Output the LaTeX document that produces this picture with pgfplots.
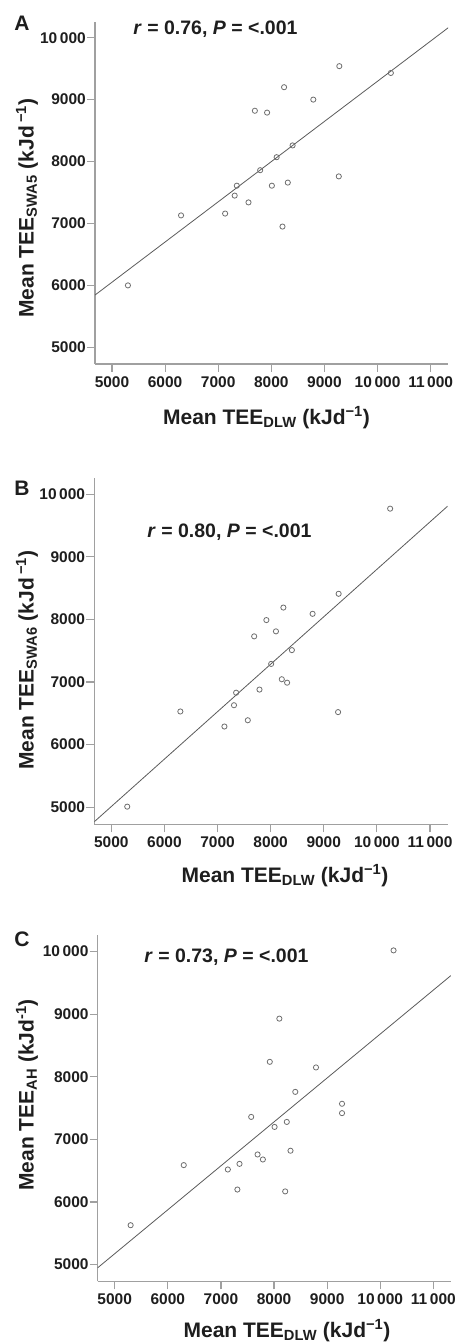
\documentclass[border=0pt]{standalone}
\usepackage{pgfplots}
\pgfplotsset{compat=1.18}
\usepackage{fontspec}
\setmainfont{Liberation Sans}
\definecolor{axgray}{HTML}{A0A0A0}
\definecolor{mkgray}{HTML}{6E6E6E}
\definecolor{lngray}{HTML}{5A5A5A}
\definecolor{txt}{HTML}{1E1E1E}
\pgfplotsset{
  tee/.style={
    scale only axis, width=353.2pt, xmin=4680, xmax=11330,
    anchor=south west, scaled ticks=false,
    axis x line*=bottom, axis y line*=left,
    axis line style={axgray, line width=1.2pt, -},
    tick style={axgray, line width=1.2pt},
    tick align=outside, major tick length=8pt,
    xtick={5000,6000,7000,8000,9000,10000,11000},
    xticklabels={5000,6000,7000,8000,9000,10\,000,11\,000},
    ytick={5000,6000,7000,8000,9000,10000},
    yticklabels={5000,6000,7000,8000,9000,10\,000},
    ticklabel style={font=\bfseries\fontsize{15.5}{18}\selectfont, text=txt},
    xticklabel style={inner sep=1pt, yshift=-3pt},
    yticklabel style={inner sep=1pt},
  },
  pts/.style={only marks, mark=o, mark size=2.6pt, mark options={draw=mkgray, line width=0.8pt}},
  reg/.style={no marks, lngray, line width=0.8pt},
}
\newcommand{\lab}{\bfseries\fontsize{21}{24}\selectfont}
\newcommand{\ann}{\bfseries\fontsize{19.5}{22}\selectfont}
\begin{document}
\begin{tikzpicture}
\useasboundingbox (0pt,0pt) rectangle (457pt,1342pt);
% ---------- Panel A ----------
\begin{axis}[tee, at={(95pt,978pt)}, height=342.3pt, ymin=4731, ymax=10258]
\addplot[reg] coordinates {(4680,5844) (11330,10160)};
\addplot[pts] coordinates {
(5300,6000) (6300,7130) (7130,7160) (7310,7450) (7350,7610) (7570,7340)
(7690,8820) (7790,7860) (7920,8790) (8010,7610) (8100,8070) (8240,9200)
(8210,6950) (8310,7660) (8400,8260) (8790,9000) (9280,9540) (9270,7760)
(10250,9430)};
\end{axis}
% ---------- Panel B ----------
\begin{axis}[tee, at={(94.3pt,517.7pt)}, height=346.7pt, ymin=4728, ymax=10266]
\addplot[reg] coordinates {(4680,4769) (11330,9808)};
\addplot[pts] coordinates {
(5300,5010) (6300,6530) (7130,6290) (7310,6630) (7350,6830) (7570,6390)
(7690,7730) (7790,6880) (7920,7990) (8010,7290) (8100,7810) (8240,8190)
(8210,7045) (8310,6990) (8400,7510) (8790,8090) (9280,8410) (9270,6520)
(10250,9770)};
\end{axis}
% ---------- Panel C ----------
\begin{axis}[tee, at={(97.7pt,60.7pt)}, height=346.3pt, ymin=4734, ymax=10266]
\addplot[reg] coordinates {(4680,4950) (11330,9618)};
\addplot[pts] coordinates {
(5300,5630) (6300,6590) (7130,6520) (7310,6200) (7350,6610) (7570,7360)
(7690,6760) (7790,6680) (7920,8240) (8010,7200) (8100,8930) (8240,7280)
(8210,6170) (8310,6820) (8400,7760) (8790,8150) (9280,7570) (9280,7420)
(10250,10020)};
\end{axis}
% ---------- texts ----------
\node[font=\lab, text=txt, inner sep=0pt] at (22pt,1319pt) {A};
\node[font=\lab, text=txt, inner sep=0pt] at (22pt,854pt) {B};
\node[font=\lab, text=txt, inner sep=0pt] at (22pt,403pt) {C};
\node[font=\ann, text=txt, inner sep=0pt] at (215.5pt,1312.5pt) {\textit{r} = 0.76, \textit{P} = <.001};
\node[font=\ann, text=txt, inner sep=0pt] at (229.5pt,809.5pt) {\textit{r} = 0.80, \textit{P} = <.001};
\node[font=\ann, text=txt, inner sep=0pt] at (226.5pt,384.5pt) {\textit{r} = 0.73, \textit{P} = <.001};
\node[font=\lab, text=txt, inner sep=0pt, rotate=90] at (27pt,1134pt) {Mean TEE\textsubscript{SWA5} (kJd\,\textsuperscript{−1})};
\node[font=\lab, text=txt, inner sep=0pt, rotate=90] at (27pt,682pt) {Mean TEE\textsubscript{SWA6} (kJd\,\textsuperscript{−1})};
\node[font=\lab, text=txt, inner sep=0pt, rotate=90] at (27pt,247pt) {Mean TEE\textsubscript{AH} (kJd\textsuperscript{-1})};
\node[font=\lab, text=txt, inner sep=0pt] at (266.5pt,924.5pt) {Mean TEE\textsubscript{DLW} (kJd\textsuperscript{−1})};
\node[font=\lab, text=txt, inner sep=0pt] at (285pt,466.5pt) {Mean TEE\textsubscript{DLW} (kJd\textsuperscript{−1})};
\node[font=\lab, text=txt, inner sep=0pt] at (287pt,11.5pt) {Mean TEE\textsubscript{DLW} (kJd\textsuperscript{−1})};
\end{tikzpicture}
\end{document}
